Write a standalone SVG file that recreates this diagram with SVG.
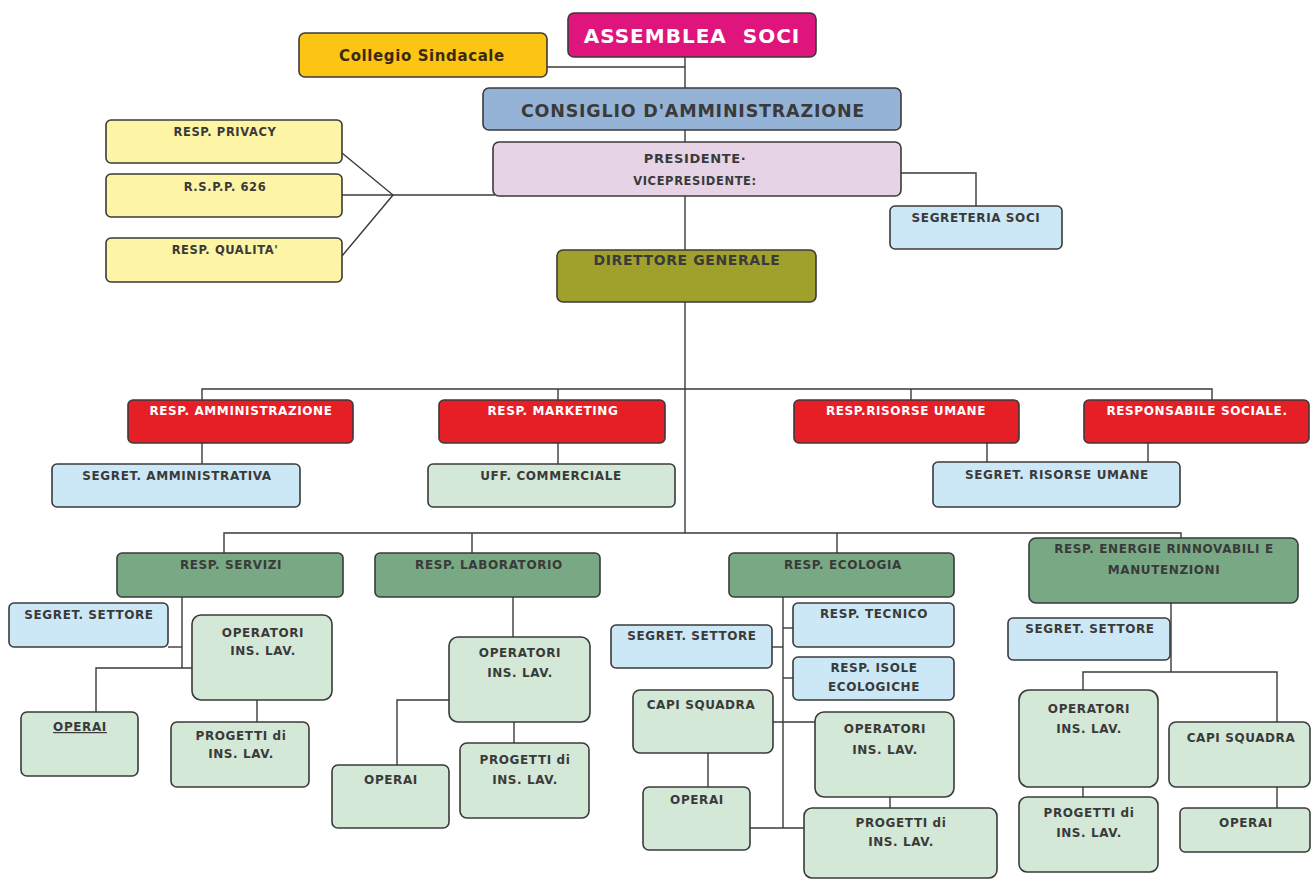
<svg xmlns="http://www.w3.org/2000/svg" width="1312" height="879" viewBox="0 0 1312 879">
<style>
.b{stroke:#3a3a3a;stroke-width:1.6}
.t{font-family:"DejaVu Sans","Liberation Sans",sans-serif;font-size:12px;letter-spacing:0.6px;font-weight:bold;fill:#3a3a3a;text-anchor:middle}
.w{fill:#ffffff}
.pink{fill:#e0147d}
.gold{fill:#fcc514}
.cda{fill:#95b3d7}
.lil{fill:#e6d3e5}
.yel{fill:#fdf4a6}
.lb{fill:#cce8f6}
.oli{fill:#a0a02c}
.red{fill:#e61e25}
.dg{fill:#78a884}
.lg{fill:#d3e8d6}
.c line,.c polyline{stroke:#3a3a3a;stroke-width:1.4;fill:none}
</style>
<rect width="1312" height="879" fill="#ffffff"/>
<g class="c" id="connectors">
<polyline points="547,67 685,67"/>
<line x1="685" y1="57" x2="685" y2="88"/>
<line x1="685" y1="130" x2="685" y2="142"/>
<line x1="685" y1="196" x2="685" y2="250"/>
<polyline points="901,173 976,173 976,206"/>
<polyline points="342,153 393,195 342,256"/>
<line x1="342" y1="195" x2="495" y2="195"/>
<line x1="685" y1="302" x2="685" y2="533"/>
<polyline points="202,400 202,389 1212,389 1212,400"/>
<line x1="558" y1="389" x2="558" y2="400"/>
<line x1="911" y1="389" x2="911" y2="400"/>
<line x1="202" y1="443" x2="202" y2="464"/>
<line x1="558" y1="443" x2="558" y2="464"/>
<line x1="987" y1="443" x2="987" y2="462"/>
<line x1="1148" y1="443" x2="1148" y2="462"/>
<polyline points="224,553 224,533 1181,533 1181,538"/>
<line x1="472" y1="533" x2="472" y2="553"/>
<line x1="837" y1="533" x2="837" y2="553"/>
<line x1="182" y1="597" x2="182" y2="668"/>
<line x1="168" y1="647" x2="182" y2="647"/>
<polyline points="192,668 96,668 96,712"/>
<line x1="257" y1="700" x2="257" y2="722"/>
<line x1="513" y1="597" x2="513" y2="637"/>
<polyline points="449,700 397,700 397,765"/>
<line x1="514" y1="722" x2="514" y2="743"/>
<line x1="783" y1="597" x2="783" y2="828"/>
<line x1="783" y1="628" x2="793" y2="628"/>
<line x1="772" y1="647" x2="783" y2="647"/>
<line x1="783" y1="678" x2="793" y2="678"/>
<line x1="773" y1="722" x2="815" y2="722"/>
<line x1="708" y1="753" x2="708" y2="787"/>
<line x1="750" y1="828" x2="804" y2="828"/>
<line x1="890" y1="797" x2="890" y2="808"/>
<line x1="1171" y1="603" x2="1171" y2="672"/>
<polyline points="1083,690 1083,672 1277,672 1277,722"/>
<line x1="1083" y1="787" x2="1083" y2="797"/>
<line x1="1277" y1="787" x2="1277" y2="808"/>
</g>
<g id="assemblea"><rect class="b pink" x="568" y="13" width="248" height="44" rx="6"/><text class="t w" x="692" y="43" style="font-size:20px;letter-spacing:1px" xml:space="preserve">ASSEMBLEA  SOCI</text></g>
<g id="collegio"><rect class="b gold" x="299" y="33" width="248" height="44" rx="6"/><text class="t" x="422" y="61" style="font-size:15px;fill:#3b2a10">Collegio Sindacale</text></g>
<g id="consiglio"><rect class="b cda" x="483" y="88" width="418" height="42" rx="6"/><text class="t" x="693" y="117" style="font-size:17.5px;letter-spacing:0.8px">CONSIGLIO D'AMMINISTRAZIONE</text></g>
<g id="presidente"><rect class="b lil" x="493" y="142" width="408" height="54" rx="6"/><text class="t" x="695" y="163" style="font-size:13px">PRESIDENTE·</text><text class="t" x="695" y="185" style="font-size:11.5px">VICEPRESIDENTE:</text></g>
<g id="privacy"><rect class="b yel" x="106" y="120" width="236" height="43" rx="5"/><text class="t" x="225" y="136" style="font-size:11.5px">RESP. PRIVACY</text></g>
<g id="rspp"><rect class="b yel" x="106" y="174" width="236" height="43" rx="5"/><text class="t" x="225" y="191" style="font-size:11.5px">R.S.P.P. 626</text></g>
<g id="qualita"><rect class="b yel" x="106" y="238" width="236" height="44" rx="5"/><text class="t" x="225" y="254" style="font-size:11.5px">RESP. QUALITA'</text></g>
<g id="segreteria-soci"><rect class="b lb" x="890" y="206" width="172" height="43" rx="5"/><text class="t" x="976" y="222">SEGRETERIA SOCI</text></g>
<g id="direttore"><rect class="b oli" x="557" y="250" width="259" height="52" rx="6"/><text class="t" x="687" y="265" style="font-size:14px">DIRETTORE GENERALE</text></g>
<g id="resp-amministrazione"><rect class="b red" x="128" y="400" width="225" height="43" rx="5"/><text class="t w" x="241" y="415">RESP. AMMINISTRAZIONE</text></g>
<g id="resp-marketing"><rect class="b red" x="439" y="400" width="226" height="43" rx="5"/><text class="t w" x="553" y="415">RESP. MARKETING</text></g>
<g id="resp-risorse"><rect class="b red" x="794" y="400" width="225" height="43" rx="5"/><text class="t w" x="906" y="415">RESP.RISORSE UMANE</text></g>
<g id="resp-sociale"><rect class="b red" x="1084" y="400" width="225" height="43" rx="5"/><text class="t w" x="1197" y="415">RESPONSABILE SOCIALE.</text></g>
<g id="segret-amministrativa"><rect class="b lb" x="52" y="464" width="248" height="43" rx="5"/><text class="t" x="177" y="480">SEGRET. AMMINISTRATIVA</text></g>
<g id="uff-commerciale"><rect class="b lg" x="428" y="464" width="247" height="43" rx="5"/><text class="t" x="551" y="480">UFF. COMMERCIALE</text></g>
<g id="segret-risorse"><rect class="b lb" x="933" y="462" width="247" height="45" rx="5"/><text class="t" x="1057" y="479">SEGRET. RISORSE UMANE</text></g>
<g id="resp-servizi"><rect class="b dg" x="117" y="553" width="226" height="44" rx="5"/><text class="t" x="231" y="569">RESP. SERVIZI</text></g>
<g id="resp-laboratorio"><rect class="b dg" x="375" y="553" width="225" height="44" rx="5"/><text class="t" x="489" y="569">RESP. LABORATORIO</text></g>
<g id="resp-ecologia"><rect class="b dg" x="729" y="553" width="225" height="44" rx="5"/><text class="t" x="843" y="569">RESP. ECOLOGIA</text></g>
<g id="resp-energie"><rect class="b dg" x="1029" y="538" width="269" height="65" rx="7"/><text class="t" x="1164" y="553">RESP. ENERGIE RINNOVABILI E</text><text class="t" x="1164" y="574">MANUTENZIONI</text></g>
<g id="servizi-segret"><rect class="b lb" x="9" y="603" width="159" height="44" rx="5"/><text class="t" x="89" y="619">SEGRET. SETTORE</text></g>
<g id="servizi-operatori"><rect class="b lg" x="192" y="615" width="140" height="85" rx="9"/><text class="t" x="263" y="637">OPERATORI</text><text class="t" x="263" y="655">INS. LAV.</text></g>
<g id="servizi-operai"><rect class="b lg" x="21" y="712" width="117" height="64" rx="6"/><text class="t" x="80" y="731" text-decoration="underline">OPERAI</text></g>
<g id="servizi-progetti"><rect class="b lg" x="171" y="722" width="138" height="65" rx="6"/><text class="t" x="241" y="740">PROGETTI di</text><text class="t" x="241" y="758">INS. LAV.</text></g>
<g id="lab-operatori"><rect class="b lg" x="449" y="637" width="141" height="85" rx="9"/><text class="t" x="520" y="657">OPERATORI</text><text class="t" x="520" y="677">INS. LAV.</text></g>
<g id="lab-operai"><rect class="b lg" x="332" y="765" width="117" height="63" rx="6"/><text class="t" x="391" y="784">OPERAI</text></g>
<g id="lab-progetti"><rect class="b lg" x="460" y="743" width="129" height="75" rx="7"/><text class="t" x="525" y="764">PROGETTI di</text><text class="t" x="525" y="784">INS. LAV.</text></g>
<g id="eco-tecnico"><rect class="b lb" x="793" y="603" width="161" height="44" rx="5"/><text class="t" x="874" y="618">RESP. TECNICO</text></g>
<g id="eco-segret"><rect class="b lb" x="611" y="625" width="161" height="43" rx="5"/><text class="t" x="692" y="640">SEGRET. SETTORE</text></g>
<g id="eco-isole"><rect class="b lb" x="793" y="657" width="161" height="43" rx="5"/><text class="t" x="874" y="672">RESP. ISOLE</text><text class="t" x="874" y="691">ECOLOGICHE</text></g>
<g id="eco-capi"><rect class="b lg" x="633" y="690" width="140" height="63" rx="7"/><text class="t" x="701" y="709">CAPI SQUADRA</text></g>
<g id="eco-operatori"><rect class="b lg" x="815" y="712" width="139" height="85" rx="9"/><text class="t" x="885" y="733">OPERATORI</text><text class="t" x="885" y="754">INS. LAV.</text></g>
<g id="eco-operai"><rect class="b lg" x="643" y="787" width="107" height="63" rx="6"/><text class="t" x="697" y="804">OPERAI</text></g>
<g id="eco-progetti"><rect class="b lg" x="804" y="808" width="193" height="70" rx="8"/><text class="t" x="901" y="827">PROGETTI di</text><text class="t" x="901" y="846">INS. LAV.</text></g>
<g id="en-segret"><rect class="b lb" x="1008" y="618" width="162" height="42" rx="5"/><text class="t" x="1090" y="633">SEGRET. SETTORE</text></g>
<g id="en-operatori"><rect class="b lg" x="1019" y="690" width="139" height="97" rx="10"/><text class="t" x="1089" y="713">OPERATORI</text><text class="t" x="1089" y="733">INS. LAV.</text></g>
<g id="en-progetti"><rect class="b lg" x="1019" y="797" width="139" height="75" rx="8"/><text class="t" x="1089" y="817">PROGETTI di</text><text class="t" x="1089" y="837">INS. LAV.</text></g>
<g id="en-capi"><rect class="b lg" x="1169" y="722" width="141" height="65" rx="7"/><text class="t" x="1241" y="742">CAPI SQUADRA</text></g>
<g id="en-operai"><rect class="b lg" x="1180" y="808" width="130" height="44" rx="5"/><text class="t" x="1246" y="827">OPERAI</text></g>
</svg>
